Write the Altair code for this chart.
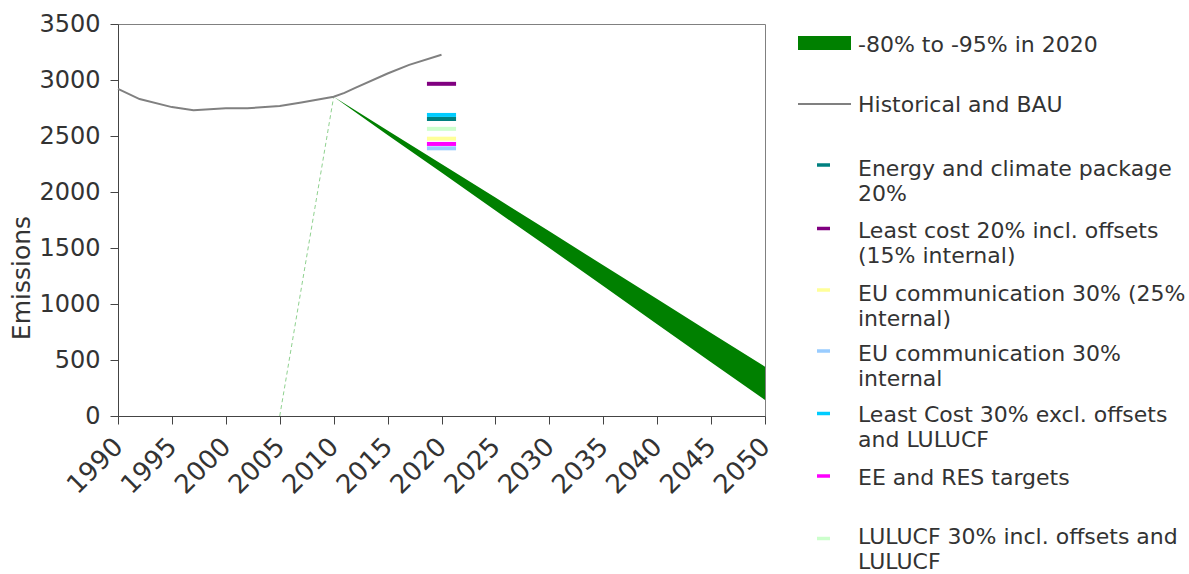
import altair as alt
import pandas as pd

# Historical emissions and business-as-usual projection
hist_years = [1990, 1992, 1995, 1997, 2000, 2002, 2005, 2007, 2010, 2011, 2012, 2015, 2017, 2020]
hist_vals = [2920, 2830, 2758, 2730, 2748, 2748, 2768, 2800, 2850, 2885, 2930, 3058, 3135, 3225]

# Reduction corridor towards 2050
band_years = [2010, 2015, 2020, 2025, 2030, 2035, 2040, 2045, 2050]
band_upper = [2850, 2550, 2250, 1950, 1650, 1345, 1045, 740, 440]
band_lower = [2850, 2510, 2175, 1835, 1500, 1160, 820, 480, 143]

# Thin connector drawn from 2005 up to the 2010 starting point
link_years = [2005, 2010]
link_vals = [0, 2850]

# 2020 scenario levels
scen_names = [
    "Energy and climate package 20%",
    "Least cost 20% incl. offsets (15% internal)",
    "EU communication 30% (25% internal)",
    "EU communication 30% internal",
    "Least Cost 30% excl. offsets and LULUCF",
    "EE and RES targets",
    "LULUCF 30% incl. offsets and LULUCF",
]
scen_vals = [2652, 2966, 2476, 2390, 2688, 2429, 2564]
scen_colors = ["#008080", "#800080", "#FFFF99", "#99CCFF", "#00CCFF", "#FF00FF", "#CCFFCC"]
scen_x0 = 2018.65
scen_x1 = 2021.35

# Legend text (line breaks as shown in the key)
band_label = "-80% to -95% in 2020"
hist_label = "Historical and BAU"
scen_labels = [
    "Energy and climate package\n20%",
    "Least cost 20% incl. offsets\n(15% internal)",
    "EU communication 30% (25%\ninternal)",
    "EU communication 30%\ninternal",
    "Least Cost 30% excl. offsets\nand LULUCF",
    "EE and RES targets",
    "LULUCF 30% incl. offsets and\nLULUCF",
]

# Key layout, in page pixels
key_sym_y = [165, 228.5, 290, 351, 413.5, 476, 538.5]
key_text_y = [176, 238, 300.5, 361, 422, 485, 544]
key_text_x = 858

FONT = "DejaVu Sans"
TXT = "#333333"

hist_df = pd.DataFrame({"year": hist_years, "value": hist_vals})
band_df = pd.DataFrame({"year": band_years, "upper": band_upper, "lower": band_lower})
link_df = pd.DataFrame({"year": link_years, "value": link_vals})
scen_df = pd.DataFrame({"name": scen_names, "value": scen_vals,
                        "x0": scen_x0, "x1": scen_x1})

x_scale = alt.Scale(domain=[1990, 2050], nice=False, zero=False)
y_scale = alt.Scale(domain=[0, 3500], nice=False)

x_axis = alt.Axis(values=list(range(1990, 2051, 5)), format="d", title=None,
                  labelAngle=-45, labelAlign="right", labelBaseline="top",
                  labelFontSize=26, labelPadding=9, labelOffset=-9, tickSize=8, grid=False,
                  labelOverlap=False, labelFlush=False, labelBound=False)
y_axis = alt.Axis(values=list(range(0, 3501, 500)), format="d", title="Emissions",
                  labelFontSize=24, labelPadding=10, tickSize=8, grid=False,
                  titleFontSize=25, titleFontWeight="normal", titleAngle=270,
                  titleAlign="center", titleBaseline="alphabetic",
                  titleX=-89, titleY=253.5, titleColor=TXT)

X = alt.X("year:Q", scale=x_scale, axis=x_axis)

band = alt.Chart(band_df).mark_area(color="#008000", opacity=1).encode(
    x=X,
    y=alt.Y("upper:Q", scale=y_scale, axis=y_axis),
    y2="lower:Q",
)
link = alt.Chart(link_df).mark_line(color="#8FD18F", strokeWidth=1, strokeDash=[4, 3]).encode(
    x=X, y=alt.Y("value:Q", scale=y_scale, axis=y_axis)
)
hist = alt.Chart(hist_df).mark_line(color="#808080", strokeWidth=2).encode(
    x=X, y=alt.Y("value:Q", scale=y_scale, axis=y_axis)
)
scen = alt.Chart(scen_df).mark_rule(strokeWidth=4, strokeCap="butt").encode(
    x=alt.X("x0:Q", scale=x_scale, axis=x_axis),
    x2="x1:Q",
    y=alt.Y("value:Q", scale=y_scale, axis=y_axis),
    color=alt.Color("name:N", scale=alt.Scale(domain=scen_names, range=scen_colors), legend=None),
)
plot = alt.layer(band, link, hist, scen)

# Key drawn beside the plot on page-pixel scales
kx = alt.Scale(domain=[118, 765], nice=False, zero=False)
ky = alt.Scale(domain=[24, 416], nice=False, zero=False, reverse=True)

key_rect = alt.Chart(pd.DataFrame({"x0": [798], "x1": [851], "y0": [36], "y1": [50]})).mark_rect(
    color="#008000").encode(
    x=alt.X("x0:Q", scale=kx, axis=None), x2="x1:Q",
    y=alt.Y("y0:Q", scale=ky, axis=None), y2="y1:Q")
key_line = alt.Chart(pd.DataFrame({"x0": [798], "x1": [851], "y": [104]})).mark_rule(
    color="#808080", strokeWidth=2).encode(
    x=alt.X("x0:Q", scale=kx, axis=None), x2="x1:Q",
    y=alt.Y("y:Q", scale=ky, axis=None))
key_dash = alt.Chart(pd.DataFrame({"x0": 817, "x1": 830, "y": key_sym_y, "c": scen_colors})).mark_rule(
    strokeWidth=3.5, strokeCap="butt").encode(
    x=alt.X("x0:Q", scale=kx, axis=None), x2="x1:Q",
    y=alt.Y("y:Q", scale=ky, axis=None),
    color=alt.Color("c:N", scale=None))
key_text = alt.Chart(pd.DataFrame({
    "x": key_text_x,
    "y": [51.5, 112] + key_text_y,
    "t": [band_label, hist_label] + scen_labels,
})).mark_text(align="left", baseline="alphabetic", font=FONT, fontSize=22, color=TXT,
              lineBreak="\n", lineHeight=25).encode(
    x=alt.X("x:Q", scale=kx, axis=None),
    y=alt.Y("y:Q", scale=ky, axis=None),
    text="t:N")
key = alt.layer(key_rect, key_line, key_dash, key_text)

chart = alt.layer(plot, key).resolve_scale(
    x="independent", y="independent", color="independent"
).properties(
    width=647, height=392,
    autosize=alt.AutoSizeParams(type="none"),
    padding={"left": 118, "top": 24, "right": 424, "bottom": 158},
    background="white",
).configure_view(
    stroke="#808080", strokeWidth=1
).configure_axis(
    labelFont=FONT, titleFont=FONT, labelColor=TXT,
    domainColor="#444444", tickColor="#444444", domainWidth=1, tickWidth=1,
)

chart.save("out.html", embed_options={"renderer": "svg", "actions": False})
